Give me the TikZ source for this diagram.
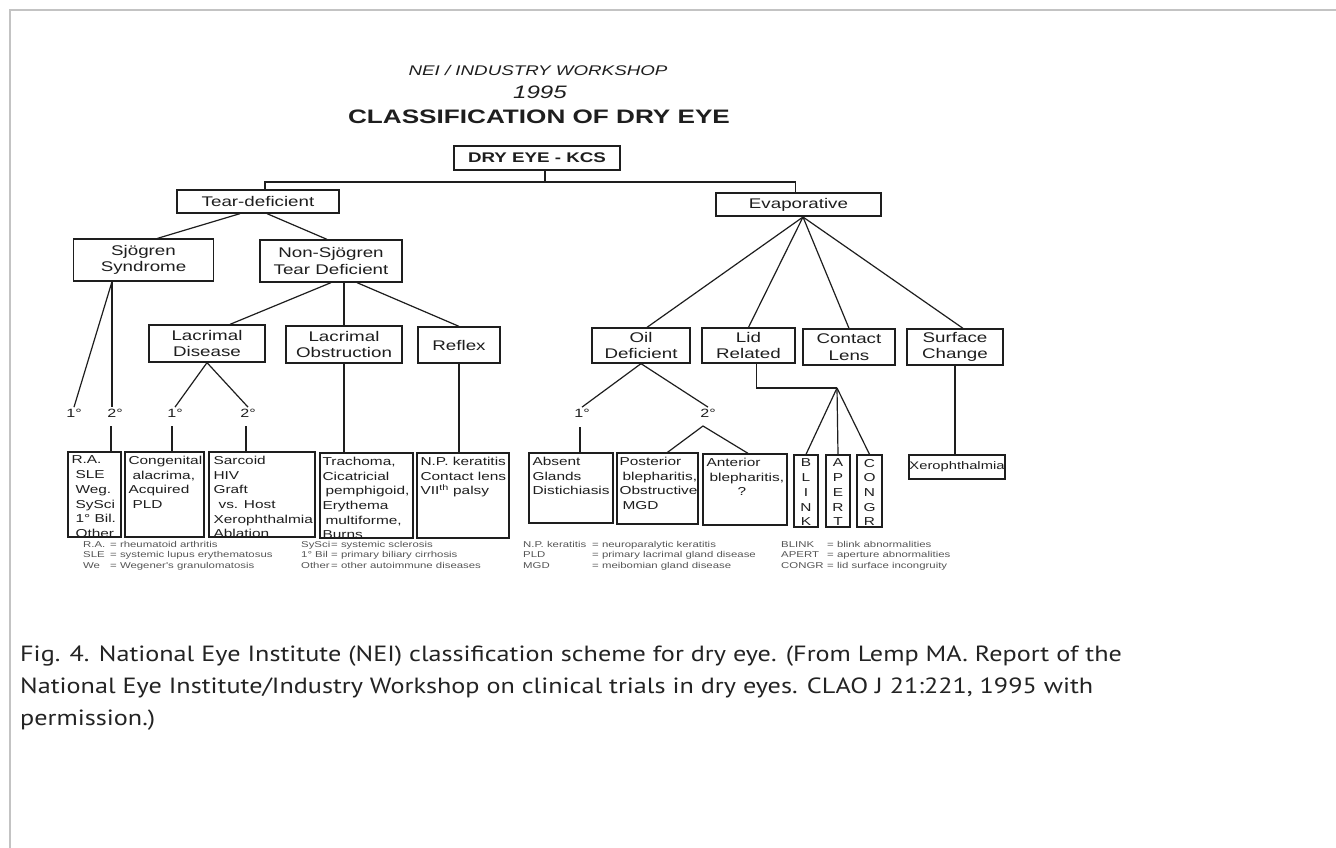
\documentclass[tikz,border=0pt]{standalone}
\usepackage{fontspec}
\setmainfont{Liberation Sans}
\newfontfamily\wf[FakeStretch=1.34]{Liberation Sans}
\newfontfamily\capfont[FakeStretch=1.19]{PT Sans}
\usetikzlibrary{calc}
\definecolor{ink}{RGB}{30,30,30}
\definecolor{framecol}{RGB}{195,195,195}
\definecolor{leg}{RGB}{85,85,85}
\definecolor{captxt}{RGB}{35,35,35}
\tikzset{
  box/.style={draw=ink, line width=1.3pt, inner sep=0pt, align=center, text=ink, font=\wf\fontsize{14}{16.5}\selectfont},
  leaf/.style={draw=ink, line width=1.3pt, inner sep=0pt},
  leaftext/.style={anchor=north west, inner sep=0pt, align=left, text=ink, font=\wf\fontsize{11.5}{14.7}\selectfont},
  vtext/.style={anchor=north, inner sep=0pt, align=center, text=ink, font=\wf\fontsize{11.5}{14.7}\selectfont},
  deg/.style={inner sep=1.5pt, text=ink, font=\wf\fontsize{12}{14}\selectfont},
  conn/.style={draw=ink, line width=1.2pt},
  legend/.style={anchor=north west, inner sep=0pt, align=left, text=leg, font=\wf\fontsize{8.5}{10.5}\selectfont},
  captline/.style={anchor=base west, inner sep=0pt, text=captxt, font=\capfont\fontsize{22}{24}\selectfont},
}
\begin{document}
\begin{tikzpicture}[x=1pt,y=-1pt]
\useasboundingbox (0,0) rectangle (1336,848);
\fill[white] (0,0) rectangle (1336,848);
\draw[framecol, line width=1.5pt] (10,848) -- (10,10) -- (1336,10);

% titles
\node[inner sep=0pt, text=ink, font=\wf\itshape\fontsize{14}{16}\selectfont] (t1) at (538,70) {NEI / INDUSTRY WORKSHOP};
\node[inner sep=0pt, text=ink, font=\wf\itshape\fontsize{18}{20}\selectfont] (t2) at (540,92) {1995};
\node[inner sep=0pt, text=ink, font=\wf\bfseries\fontsize{19.5}{22}\selectfont] (t3) at (539,117) {CLASSIFICATION OF DRY EYE};

% upper boxes
\node[box, minimum width=166pt, minimum height=24pt, font=\wf\bfseries\fontsize{14}{16}\selectfont] (kcs) at (537,158) {DRY EYE - KCS};
\node[box, minimum width=162pt, minimum height=23pt] (td) at (258,201.5) {Tear-deficient};
\node[box, minimum width=165pt, minimum height=23pt] (ev) at (798.5,204.5) {Evaporative};
\node[box, minimum width=140pt, minimum height=42pt] (sj) at (143.5,260) {Sjögren\\Syndrome};
\node[box, minimum width=142pt, minimum height=42pt] (ns) at (331,261) {Non-Sjögren\\Tear Deficient};
\node[box, minimum width=116pt, minimum height=37pt] (ld) at (207,343.5) {Lacrimal\\Disease};
\node[box, minimum width=116pt, minimum height=37pt] (lo) at (344,344.5) {Lacrimal\\Obstruction};
\node[box, minimum width=82pt, minimum height=36pt] (rf) at (459,345) {Reflex};
\node[box, minimum width=98pt, minimum height=35pt] (od) at (641,345.5) {Oil\\Deficient};
\node[box, minimum width=93pt, minimum height=35pt] (lr) at (748.5,345.5) {Lid\\Related};
\node[box, minimum width=92pt, minimum height=36pt] (cl) at (849,347) {Contact\\Lens};
\node[box, minimum width=96pt, minimum height=36pt] (sc) at (955,347) {Surface\\Change};

% degree labels
\node[deg] (s1) at (74,413) {1°};
\node[deg] (s2) at (115,413) {2°};
\node[deg] (l1) at (175,413) {1°};
\node[deg] (l2) at (248,413) {2°};
\node[deg] (o1) at (582,413) {1°};
\node[deg] (o2) at (708,413) {2°};

% leaf boxes
\node[leaf, minimum width=53pt, minimum height=85pt] (ra) at (94.5,494.5) {};
\node[leaf, minimum width=79pt, minimum height=85pt] (cg) at (164.5,494.5) {};
\node[leaf, minimum width=106pt, minimum height=85pt] (sa) at (262,494.5) {};
\node[leaf, minimum width=93pt, minimum height=85pt] (tr) at (366.5,495.5) {};
\node[leaf, minimum width=92pt, minimum height=85pt] (np) at (463,495.5) {};
\node[leaf, minimum width=84pt, minimum height=70pt] (ab) at (571,488) {};
\node[leaf, minimum width=81pt, minimum height=71pt] (po) at (657.5,488.5) {};
\node[leaf, minimum width=84pt, minimum height=71pt] (an) at (745,489.5) {};
\node[leaf, minimum width=24pt, minimum height=72pt] (bl) at (806,491) {};
\node[leaf, minimum width=24pt, minimum height=72pt] (ap) at (838,491) {};
\node[leaf, minimum width=25pt, minimum height=72pt] (co) at (869.5,491) {};
\node[leaf, minimum width=96pt, minimum height=24pt] (xe) at (957,467) {};

% leaf texts
\node[leaftext] (ratx) at ($(ra.north west)+(4,4.5)$) {R.A.\\\hspace*{4pt}SLE\\\hspace*{4pt}Weg.\\\hspace*{4pt}SySci\\\hspace*{4pt}1° Bil.\\\hspace*{4pt}Other};
\node[leaftext] (cgtx) at ($(cg.north west)+(4,4.5)$) {Congenital\\\hspace*{4pt}alacrima,\\Acquired\\\hspace*{4pt}PLD};
\node[leaftext] (satx) at ($(sa.north west)+(5,4.5)$) {Sarcoid\\HIV\\Graft\\\hspace*{5pt}vs. Host\\Xerophthalmia\\Ablation};
\node[leaftext] (trtx) at ($(tr.north west)+(3,4.5)$) {Trachoma,\\Cicatricial\\\hspace*{3pt}pemphigoid,\\Erythema\\\hspace*{3pt}multiforme,\\Burns};
\node[leaftext] (nptx) at ($(np.north west)+(4,4.5)$) {N.P. keratitis\\Contact lens\\VII\textsuperscript{th} palsy};
\node[leaftext] (abtx) at ($(ab.north west)+(4,4.5)$) {Absent\\Glands\\Distichiasis};
\node[leaftext] (potx) at ($(po.north west)+(3,4.5)$) {Posterior\\\hspace*{3pt}blepharitis,\\Obstructive\\\hspace*{3pt}MGD};
\node[leaftext] (antx) at ($(an.north west)+(4,4.5)$) {Anterior\\\hspace*{3pt}blepharitis,\\\hspace*{31pt}?};
\node[vtext] (bltx) at ($(bl.north)+(0,4.5)$) {B\\L\\I\\N\\K};
\node[vtext] (aptx) at ($(ap.north)+(0,4.5)$) {A\\P\\E\\R\\T};
\node[vtext] (cotx) at ($(co.north)+(0,4.5)$) {C\\O\\N\\G\\R};
\node[inner sep=0pt, text=ink, font=\wf\fontsize{11}{13}\selectfont] (xetx) at (xe.center) {Xerophthalmia};

% legends
\node[legend] (lg1) at (83,541) {\makebox[27pt][l]{R.A.}= rheumatoid arthritis\\\makebox[27pt][l]{SLE}= systemic lupus erythematosus\\\makebox[27pt][l]{We}= Wegener's granulomatosis};
\node[legend] (lg2) at (301,541) {\makebox[30pt][l]{SySci}= systemic sclerosis\\\makebox[30pt][l]{1° Bil}= primary biliary cirrhosis\\\makebox[30pt][l]{Other}= other autoimmune diseases};
\node[legend] (lg3) at (523,541) {\makebox[69pt][l]{N.P. keratitis}= neuroparalytic keratitis\\\makebox[69pt][l]{PLD}= primary lacrimal gland disease\\\makebox[69pt][l]{MGD}= meibomian gland disease};
\node[legend] (lg4) at (781,541) {\makebox[46pt][l]{BLINK}= blink abnormalities\\\makebox[46pt][l]{APERT}= aperture abnormalities\\\makebox[46pt][l]{CONGR}= lid surface incongruity};

% connectors
\coordinate (bus) at (545,182);
\draw[conn] ($(kcs.south)+(8,0)$) -- (bus);
\draw[conn] ($(td.north)+(7,0)$) |- (bus) -| ($(ev.north)+(-3,0)$);
\draw[conn] ($(td.south)+(-18,0)$) -- ($(sj.north)+(14,0)$);
\draw[conn] ($(td.south)+(9,0)$) -- ($(ns.north)+(-4,0)$);
\coordinate (sjb) at ($(sj.south)+(-31.5,0)$);
\draw[conn] (sjb) -- (s1.north);
\draw[conn] (sjb) -- (sjb |- s2.north);
\draw[conn] (ns.south) -- ($(ld.north)+(23,0)$);
\draw[conn] (lo.north |- ns.south) -- (lo.north);
\draw[conn] ($(ns.south)+(26,0)$) -- (rf.north);
\draw[conn] (ld.south) -- (l1.north);
\draw[conn] (ld.south) -- (l2.north);
\coordinate (s2b) at (111,426);
\coordinate (l1b) at (172,426);
\coordinate (l2b) at (246,426);
\coordinate (o1b) at (580,427);
\coordinate (o2b) at (703,426);
\draw[conn] (s2b) -- (s2b |- ra.north);
\draw[conn] (l1b) -- (l1b |- cg.north);
\draw[conn] (l2b) -- (l2b |- sa.north);
\draw[conn] (lo.south) -- (lo.south |- tr.north);
\draw[conn] (rf.south) -- (rf.south |- np.north);
\coordinate (eva) at (803,217);
\draw[conn] (eva) -- ($(od.north)+(6,0)$);
\draw[conn] (eva) -- (lr.north);
\draw[conn] (eva) -- (cl.north);
\draw[conn] (eva) -- ($(sc.north)+(8,0)$);
\draw[conn] (od.south) -- (o1.north);
\draw[conn] (od.south) -- (o2.north);
\draw[conn] (o1b) -- (o1b |- ab.north);
\draw[conn] ($(po.north)+(10,0)$) -- (o2b) -- ($(an.north)+(3,0)$);
\coordinate (lida) at (837,388);
\draw[conn] ($(lr.south)+(8,0)$) |- (lida);
\draw[conn] (lida) -- (bl.north);
\draw[conn] (lida) -- (ap.north);
\draw[conn] (lida) -- (co.north);
\draw[conn] (sc.south) -- (sc.south |- xe.north);

% caption
\node[captline] (cap1) at (20,661) {Fig. 4. National Eye Institute (NEI) classification scheme for dry eye. (From Lemp MA. Report of the};
\node[captline] (cap2) at (20,693) {National Eye Institute/Industry Workshop on clinical trials in dry eyes. CLAO J 21:221, 1995 with};
\node[captline] (cap3) at (20,725) {permission.)};
\end{tikzpicture}
\end{document}
